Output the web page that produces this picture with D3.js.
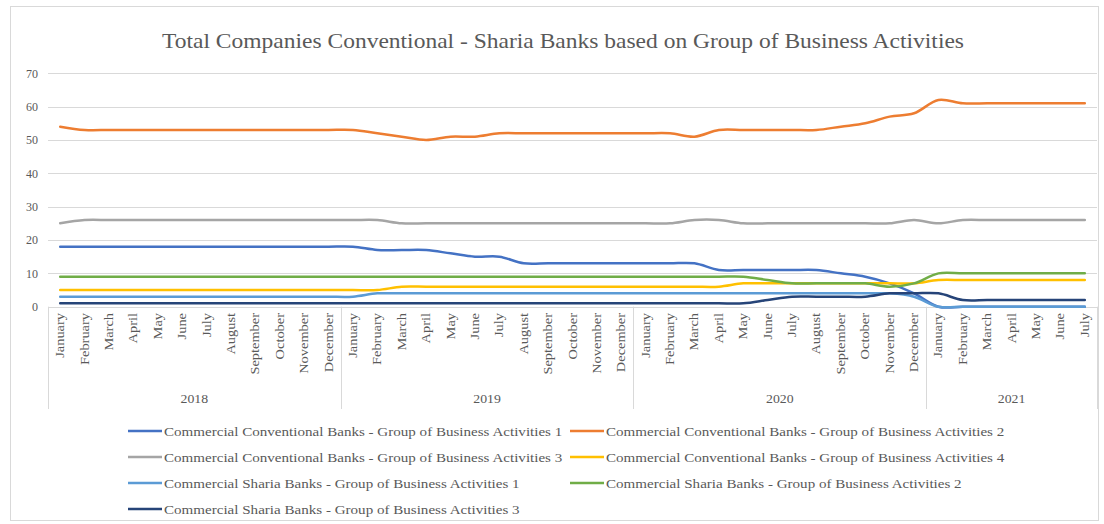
<!DOCTYPE html>
<html>
<head>
<meta charset="utf-8">
<script src="https://cdn.jsdelivr.net/npm/d3@7"></script>
<style>
	body { margin: 0; background: #fff; }
	text { font-family: "Liberation Serif", "Times New Roman", serif; fill: #595959; }
</style>
</head>
<body>
<svg width="1104" height="524"></svg>
<script>
var monthNames = ["January", "February", "March", "April", "May", "June", "July",
	"August", "September", "October", "November", "December"];
var years = ["2018", "2019", "2020", "2021"];
var monthsPerYear = [12, 12, 12, 7];

var seriesNames = [
	"Commercial Conventional Banks - Group of Business Activities 1",
	"Commercial Conventional Banks - Group of Business Activities 2",
	"Commercial Conventional Banks - Group of Business Activities 3",
	"Commercial Conventional Banks - Group of Business Activities 4",
	"Commercial Sharia Banks - Group of Business Activities 1",
	"Commercial Sharia Banks - Group of Business Activities 2",
	"Commercial Sharia Banks - Group of Business Activities 3"
];
var seriesColors = ["#4472C4", "#ED7D31", "#A5A5A5", "#FFC000", "#5B9BD5", "#70AD47", "#264478"];

// one value per month, Jan 2018 .. Jul 2021
var ccb1 = [18, 18, 18, 18, 18, 18, 18, 18, 18, 18, 18, 18,
	18, 17, 17, 17, 16, 15, 15, 13, 13, 13, 13, 13,
	13, 13, 13, 11, 11, 11, 11, 11, 10, 9, 7, 4,
	0, 0, 0, 0, 0, 0, 0];
var ccb2 = [54, 53, 53, 53, 53, 53, 53, 53, 53, 53, 53, 53,
	53, 52, 51, 50, 51, 51, 52, 52, 52, 52, 52, 52,
	52, 52, 51, 53, 53, 53, 53, 53, 54, 55, 57, 58,
	62, 61, 61, 61, 61, 61, 61];
var ccb3 = [25, 26, 26, 26, 26, 26, 26, 26, 26, 26, 26, 26,
	26, 26, 25, 25, 25, 25, 25, 25, 25, 25, 25, 25,
	25, 25, 26, 26, 25, 25, 25, 25, 25, 25, 25, 26,
	25, 26, 26, 26, 26, 26, 26];
var ccb4 = [5, 5, 5, 5, 5, 5, 5, 5, 5, 5, 5, 5,
	5, 5, 6, 6, 6, 6, 6, 6, 6, 6, 6, 6,
	6, 6, 6, 6, 7, 7, 7, 7, 7, 7, 7, 7,
	8, 8, 8, 8, 8, 8, 8];
var csb1 = [3, 3, 3, 3, 3, 3, 3, 3, 3, 3, 3, 3,
	3, 4, 4, 4, 4, 4, 4, 4, 4, 4, 4, 4,
	4, 4, 4, 4, 4, 4, 4, 4, 4, 4, 4, 3,
	0, 0, 0, 0, 0, 0, 0];
var csb2 = [9, 9, 9, 9, 9, 9, 9, 9, 9, 9, 9, 9,
	9, 9, 9, 9, 9, 9, 9, 9, 9, 9, 9, 9,
	9, 9, 9, 9, 9, 8, 7, 7, 7, 7, 6, 7,
	10, 10, 10, 10, 10, 10, 10];
var csb3 = [1, 1, 1, 1, 1, 1, 1, 1, 1, 1, 1, 1,
	1, 1, 1, 1, 1, 1, 1, 1, 1, 1, 1, 1,
	1, 1, 1, 1, 1, 2, 3, 3, 3, 3, 4, 4,
	4, 2, 2, 2, 2, 2, 2];
var allSeries = [ccb1, ccb2, ccb3, ccb4, csb1, csb2, csb3];

var yTicks = [0, 10, 20, 30, 40, 50, 60, 70];

var svg = d3.select("svg"),
	width = +svg.attr("width"),
	height = +svg.attr("height");

var plotLeft = 48, plotRight = 1097, plotTop = 73.3, plotBottom = 306.7;

// build the month categories
var categories = [];
years.forEach(function(y, i) {
	for (var m = 0; m < monthsPerYear[i]; m++) categories.push({year: y, month: monthNames[m], key: y + "-" + m});
});

var x = d3.scaleBand()
	.domain(categories.map(function(d) { return d.key; }))
	.range([plotLeft, plotRight]);

var y = d3.scaleLinear()
	.domain([0, 70])
	.range([plotBottom, plotTop]);

// chart border
svg.append("rect")
	.attr("x", 10.5).attr("y", 6.5)
	.attr("width", 1088).attr("height", 514)
	.attr("fill", "#fff")
	.attr("stroke", "#D9D9D9");

svg.append("text")
	.attr("transform", "translate(563,48) scale(1.12,1)")
	.attr("text-anchor", "middle")
	.attr("font-size", 21)
	.text("Total Companies Conventional - Sharia Banks based on Group of Business Activities");

// gridlines + y labels
var grid = svg.append("g");
grid.selectAll("line")
	.data(yTicks)
	.enter().append("line")
	.attr("x1", plotLeft).attr("x2", plotRight)
	.attr("y1", function(d) { return Math.round(y(d)) + 0.5; })
	.attr("y2", function(d) { return Math.round(y(d)) + 0.5; })
	.attr("stroke", "#D9D9D9");

grid.selectAll("text")
	.data(yTicks)
	.enter().append("text")
	.attr("x", 38)
	.attr("y", function(d) { return y(d); })
	.attr("dy", "0.35em")
	.attr("text-anchor", "end")
	.attr("font-size", 12)
	.text(function(d) { return d; });

// multi-level category axis
var axis = svg.append("g");
axis.selectAll("text.month")
	.data(categories)
	.enter().append("text")
	.attr("class", "month")
	.attr("text-anchor", "end")
	.attr("font-size", 12)
	.attr("transform", function(d) {
		return "translate(" + (x(d.key) + x.bandwidth() / 2 + 4) + "," + 313 + ") rotate(-90) scale(1.2,1)";
	})
	.text(function(d) { return d.month; });

var yearStart = 0, dividers = [plotLeft];
var yearPos = [];
years.forEach(function(yr, i) {
	var first = categories[yearStart].key,
		last = categories[yearStart + monthsPerYear[i] - 1].key;
	var x0 = x(first), x1 = x(last) + x.bandwidth();
	yearPos.push({year: yr, cx: (x0 + x1) / 2});
	dividers.push(x1);
	yearStart += monthsPerYear[i];
});

axis.selectAll("line")
	.data(dividers)
	.enter().append("line")
	.attr("x1", function(d) { return Math.round(d) + 0.5; })
	.attr("x2", function(d) { return Math.round(d) + 0.5; })
	.attr("y1", plotBottom)
	.attr("y2", 409)
	.attr("stroke", "#D9D9D9");

axis.selectAll("text.year")
	.data(yearPos)
	.enter().append("text")
	.attr("class", "year")
	.attr("transform", function(d) { return "translate(" + d.cx + ",403) scale(1.15,1)"; })
	.attr("text-anchor", "middle")
	.attr("font-size", 12)
	.text(function(d) { return d.year; });

// series lines
var line = d3.line()
	.x(function(d, i) { return x(categories[i].key) + x.bandwidth() / 2; })
	.y(function(d) { return y(d); })
	.curve(d3.curveCatmullRom.alpha(0.5));

svg.append("g")
	.selectAll("path")
	.data(allSeries)
	.enter().append("path")
	.attr("d", function(d) { return line(d); })
	.attr("fill", "none")
	.attr("stroke", function(d, i) { return seriesColors[i]; })
	.attr("stroke-width", 2.5)
	.attr("stroke-linejoin", "round")
	.attr("stroke-linecap", "round");

// legend, two columns
var legendCols = [128, 570], legendRows = [431, 457, 483, 509];
var legend = svg.append("g")
	.selectAll("g")
	.data(seriesNames)
	.enter().append("g")
	.attr("transform", function(d, i) {
		return "translate(" + legendCols[i % 2] + "," + legendRows[Math.floor(i / 2)] + ")";
	});

legend.append("line")
	.attr("x1", 0).attr("x2", 34)
	.attr("stroke", function(d, i) { return seriesColors[i]; })
	.attr("stroke-width", 2.5);

legend.append("text")
	.attr("transform", "translate(36,0) scale(1.16,1)")
	.attr("dy", "0.35em")
	.attr("font-size", 13)
	.text(function(d) { return d; });
</script>
</body>
</html>
